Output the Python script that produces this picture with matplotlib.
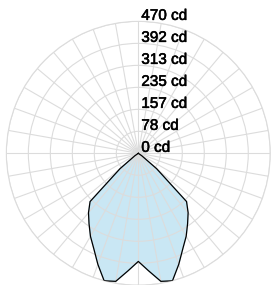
import numpy as np
import matplotlib
matplotlib.use("Agg")
import matplotlib.pyplot as plt
import matplotlib.transforms as mtransforms
import matplotlib.patheffects as pe

# luminous intensity (cd) from nadir, 5 degree steps, symmetric
angles_deg = [0, 5, 10, 15, 20, 25, 30, 35, 40, 45, 50, 55, 60, 65, 70, 75, 80, 85, 90]
intensity = [385, 420, 463, 470, 421, 375, 341, 306, 276, 243, 85, 15, 0, 0, 0, 0, 0, 0, 0]
ring_labels = ["0 cd", "78 cd", "157 cd", "235 cd", "313 cd", "392 cd", "470 cd"]
r_max = 470

fig = plt.figure(figsize=(2.72, 2.85), dpi=100)
ax = fig.add_axes([0.0232, -0.001, 0.9706, 0.926], projection="polar")
ax.set_theta_zero_location("S")

# mirror the half curve to both sides
th = np.deg2rad(np.concatenate([-np.array(angles_deg[::-1]), np.array(angles_deg[1:])]))
rr = np.concatenate([np.array(intensity[::-1]), np.array(intensity[1:])])

ax.fill(th, rr, color="#c9e7f4", zorder=1)
ax.plot(np.append(th, th[0]), np.append(rr, rr[0]), color="black", lw=0.9, zorder=3)

ax.set_rlim(0, r_max)
ax.set_rticks([r_max / 6 * k for k in range(1, 7)])
ax.set_thetagrids(np.arange(0, 360, 10))
ax.set_xticklabels([])
ax.set_yticklabels([])
ax.grid(True, color="#dcdcdc", lw=0.8, zorder=2)
ax.set_axisbelow(False)
ax.spines["polar"].set_color("#dcdcdc")
ax.spines["polar"].set_linewidth(0.8)
ax.tick_params(length=0)

off = mtransforms.offset_copy(ax.transData, fig=fig, x=3, y=1.5, units="dots")
for k, lab in enumerate(ring_labels):
    ax.text(np.pi, r_max / 6 * k, lab, transform=off, ha="left", va="baseline",
            fontsize=11, family="Liberation Sans", color="black", zorder=5,
            path_effects=[pe.withStroke(linewidth=0.4, foreground="black")])

fig.savefig("out.png", dpi=100)
